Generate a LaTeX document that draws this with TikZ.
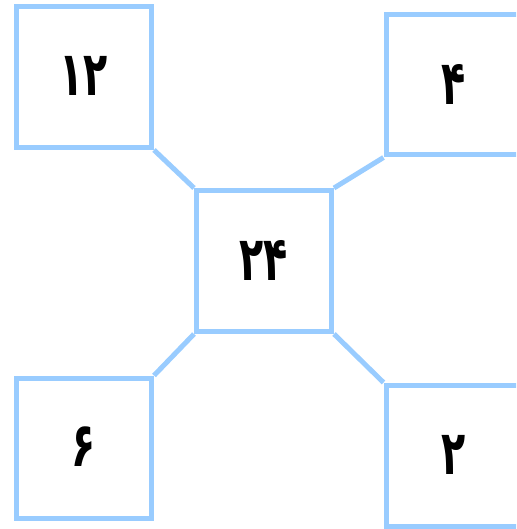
\documentclass[tikz,border=0pt]{standalone}
\usepackage{fontspec}
\newfontfamily\arabicfont[Script=Arabic]{DejaVu Sans}
\usepackage{xcolor}
\definecolor{boxblue}{HTML}{99CCFF}
\usepackage{tikz}
\usetikzlibrary{positioning}
\tikzset{
  every picture/.style={line join=miter},
  numbox/.style={draw=boxblue, line width=5pt, minimum width=135pt,
    minimum height=141pt, inner sep=0pt, font=\arabicfont\bfseries\fontsize{44}{44}\selectfont},
  link/.style={boxblue, line width=5pt},
}
\newcommand{\tallnum}[1]{\raisebox{2pt}{\scalebox{0.9}[1.4]{#1}}}

\begin{document}
\begin{tikzpicture}[x=1pt, y=-1pt]
\clip (0,0) rectangle (516,529);
% the five boxes
\node[numbox] (c)  at (264,261)   {\tallnum{۲۴}};
\node[numbox] (tl) at (84,77)     {\tallnum{۱۲}};
\node[numbox, minimum height=140pt] (tr) at (453.5,85) {\tallnum{۴}};
\node[numbox, minimum height=140pt] (bl) at (84,448)   {\tallnum{۶}};
\node[numbox] (br) at (453.5,455.5) {\tallnum{۲}};
% links between the corners
\draw[link] (tl.south east) -- (c.north west);
\draw[link] (tr.south west) -- (c.north east);
\draw[link] (c.south west) -- (bl.north east);
\draw[link] (c.south east) -- (br.north west);
\end{tikzpicture}
\end{document}
